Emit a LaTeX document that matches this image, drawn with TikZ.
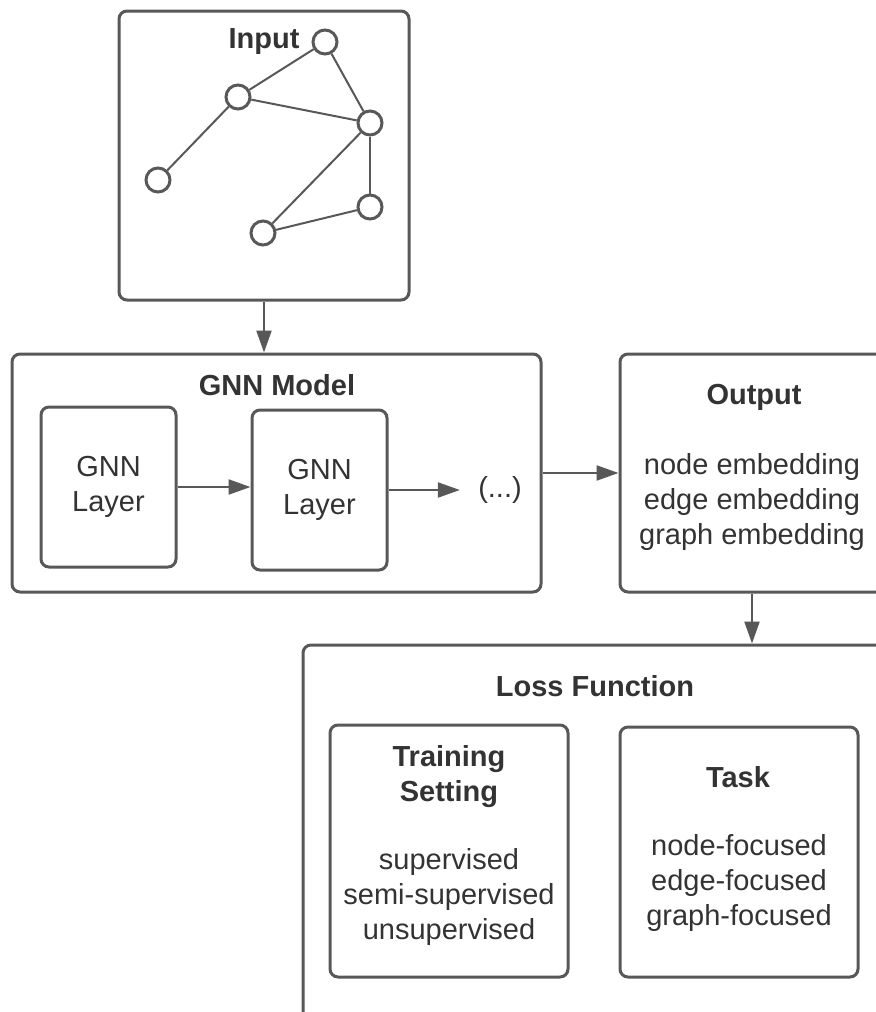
\documentclass[tikz,border=0pt]{standalone}
\usepackage{fontspec}
\setmainfont{Liberation Sans}
\usetikzlibrary{arrows.meta}
\definecolor{boxgray}{RGB}{88,88,88}
\definecolor{textgray}{RGB}{51,51,51}

\begin{document}
\begin{tikzpicture}[x=0.5pt,y=-0.5pt,
    box/.style={draw=boxgray, line width=1.5pt, rounded corners=4pt, inner sep=0pt},
    lbl/.style={text=textgray, font=\fontsize{14.5}{17.5}\selectfont, align=center, inner sep=1pt},
    ttl/.style={lbl, font=\fontsize{14.5}{17.5}\selectfont\bfseries},
    vtx/.style={circle, draw=boxgray, line width=1.5pt, minimum size=12pt, inner sep=0pt},
    flow/.style={draw=boxgray, line width=1.1pt, -{Triangle[length=11pt,width=7.5pt]}}]
  \useasboundingbox (0,0) rectangle (876,1012);
  \clip (0,0) rectangle (876,1012);

  % input graph
  \node[box, minimum width=145pt, minimum height=144.5pt] (input) at (264,155.5) {};
  \node[ttl] (inputtitle) at (264,42) {Input};
  \node[vtx] (g1) at (325,42) {};
  \node[vtx] (g2) at (238,97) {};
  \node[vtx] (g3) at (370,123) {};
  \node[vtx] (g4) at (158,180) {};
  \node[vtx] (g5) at (370,207) {};
  \node[vtx] (g6) at (263,233) {};
  \foreach \a/\b in {g1/g2, g1/g3, g2/g3, g2/g4, g3/g6, g3/g5, g5/g6}
    \draw[boxgray, line width=1pt] (\a) -- (\b);

  % GNN model
  \node[box, minimum width=264.5pt, minimum height=119pt] (gnn) at (276.5,473) {};
  \node[ttl] (gnntitle) at (277,385) {GNN Model};
  \node[box, minimum width=67.5pt, minimum height=80pt] (layer1) at (108.5,487) {};
  \node[lbl] at (layer1) {GNN\\Layer};
  \node[box, minimum width=67.5pt, minimum height=80pt] (layer2) at (319.5,490) {};
  \node[lbl] at (layer2) {GNN\\Layer};
  \node[lbl] (dots) at (500,490) {(...)};

  % output
  \node[box, minimum width=132pt, minimum height=119pt] (output) at (752,473) {};
  \node[ttl] (outtitle) at (754,397) {Output};
  \node[lbl] (outtext) at (752,502) {node embedding\\edge embedding\\graph embedding};

  % loss function
  \node[box, minimum width=292pt, minimum height=200pt] (loss) at (595,845) {};
  \node[ttl] (losstitle) at (595,686) {Loss Function};
  \node[box, minimum width=119pt, minimum height=126pt] (train) at (449,851) {};
  \node[ttl] (traintitle) at (449,777) {Training\\Setting};
  \node[lbl] (traintext) at (449,897) {supervised\\semi-supervised\\unsupervised};
  \node[box, minimum width=119pt, minimum height=125pt] (task) at (739,852) {};
  \node[ttl] (tasktitle) at (738,777) {Task};
  \node[lbl] (tasktext) at (739,883) {node-focused\\edge-focused\\graph-focused};

  % arrows
  \draw[flow] (input.south) -- (input.south |- gnn.north);
  \draw[flow] (layer1.east) -- (layer1.east -| layer2.west);
  \draw[flow, shorten >=8pt] (layer2.east) -- (dots.west);
  \draw[flow] (gnn.east) -- (output.west);
  \draw[flow] (output.south) -- (output.south |- loss.north);
\end{tikzpicture}
\end{document}
